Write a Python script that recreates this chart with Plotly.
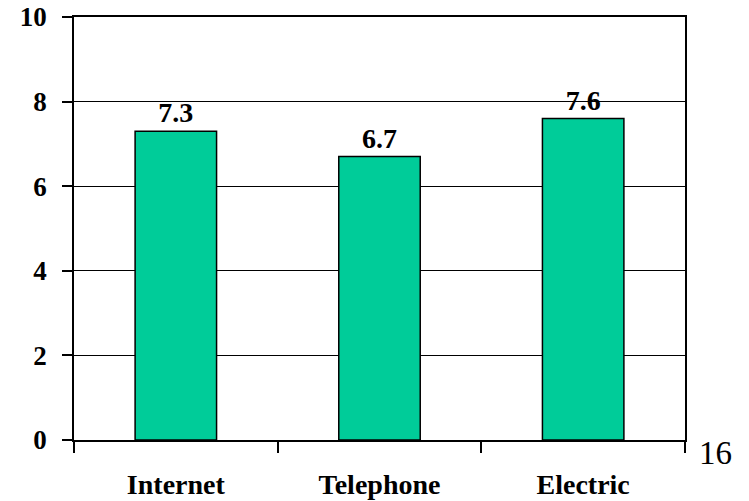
import plotly.graph_objects as go

categories = ["Internet", "Telephone", "Electric"]
values = [7.3, 6.7, 7.6]
value_labels = ["7.3", "6.7", "7.6"]
y_ticks = [0, 2, 4, 6, 8, 10]
page_number = "16"

font_family = "Liberation Serif"

fig = go.Figure()
fig.add_trace(go.Bar(
    x=categories,
    y=values,
    width=0.4,
    marker=dict(color="#00CC99", line=dict(color="black", width=1.5)),
    text=value_labels,
    textposition="outside",
    textfont=dict(family=font_family, size=28, color="black", weight="bold"),
    cliponaxis=False,
))

fig.update_layout(
    width=749, height=501,
    margin=dict(l=74, r=64, t=17, b=61, autoexpand=False),
    paper_bgcolor="white", plot_bgcolor="white",
    showlegend=False,
    font=dict(family=font_family, color="black"),
    uniformtext=dict(mode=False),
)
fig.update_xaxes(
    type="category",
    tickson="boundaries",
    ticks="outside", ticklen=11, tickwidth=1.5, tickcolor="black",
    showline=True, linecolor="black", linewidth=1.5, mirror=True,
    showgrid=False,
    tickfont=dict(family=font_family, size=28, color="black", weight="bold"),
    ticklabelstandoff=19,
    automargin=False,
)
fig.update_yaxes(
    range=[0, 10],
    tickvals=y_ticks,
    ticktext=[str(v) for v in y_ticks],
    ticks="outside", ticklen=10, tickwidth=1.5, tickcolor="black",
    showline=True, linecolor="black", linewidth=1.5, mirror=True,
    showgrid=True, gridcolor="black", gridwidth=1.2,
    zeroline=False,
    tickfont=dict(family=font_family, size=27, color="black", weight="bold"),
    ticklabelstandoff=10,
    automargin=False,
)
plot_w = 749 - 74 - 64
plot_h = 501 - 17 - 61
fig.add_annotation(
    text=page_number,
    x=(715 - 74) / plot_w, y=(501 - 61 - 453) / plot_h,
    xref="paper", yref="paper", xanchor="center", yanchor="middle",
    showarrow=False,
    font=dict(family=font_family, size=33, color="black"),
)

fig.write_html("out.html")
